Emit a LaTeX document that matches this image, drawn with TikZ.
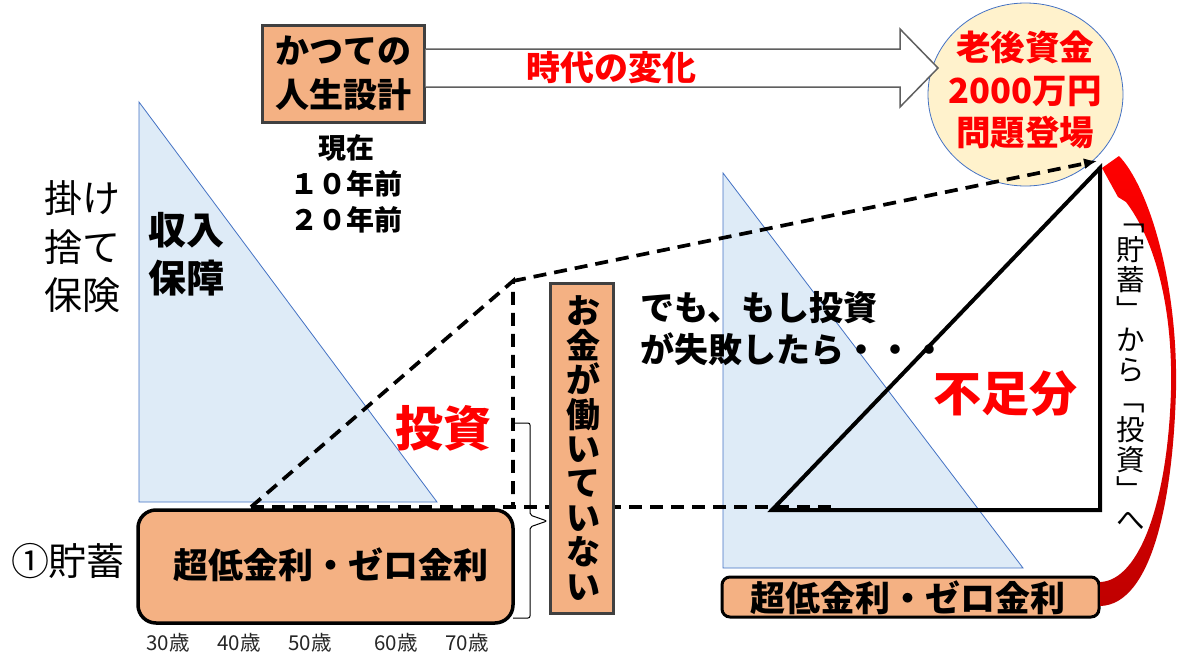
\documentclass[tikz,border=0pt]{standalone}
\usepackage{fontspec}
\setmainfont{Noto Sans CJK JP}
\usetikzlibrary{arrows.meta,shapes.geometric}
\definecolor{boxorange}{HTML}{F4B183}
\definecolor{triblue}{HTML}{DEEBF7}
\definecolor{triedge}{HTML}{4472C4}
\definecolor{circfill}{HTML}{FFF2CC}
\definecolor{boxedge}{HTML}{404040}
\definecolor{arrowgray}{HTML}{5F5F5F}
\definecolor{deepred}{HTML}{C00000}
\newcommand{\fsz}[2]{\fontsize{#1}{#2}\selectfont}
\begin{document}
\begin{tikzpicture}[x=1pt,y=-1pt,
  tri/.style={fill=triblue,draw=triedge,line width=0.8pt,line join=miter},
  dashline/.style={dash pattern=on 13pt off 8pt,line width=3.7pt,black},
  orangebox/.style={fill=boxorange,draw=boxedge,line width=3pt,inner sep=0pt},
  roundbox/.style={fill=boxorange,draw=black,line width=3.5pt,inner sep=0pt},
  txt/.style={inner sep=0pt,align=center},
  redtxt/.style={txt,text=red,font=\bfseries\fsz{48}{52}},
  agetxt/.style={txt,font=\fsz{20.5}{22},text=black!85}]
\useasboundingbox (0,0) rectangle (1200,672);
\fill[white] (0,0) rectangle (1200,672);

% blue triangles
\draw[tri] (139,102) -- (139,502) -- (437,502) -- cycle;
\draw[tri] (723,173) -- (723,568) -- (1023,568) -- cycle;

% goal circle
\node[ellipse,minimum width=195pt,minimum height=183pt,inner sep=0pt,
      fill=circfill,draw=triedge,line width=0.8pt] (goal) at (1025.5,94.5) {};
\node[txt,text=red,font=\bfseries\fsz{34.5}{42.5}] (goaltext) at (1025,90) {老後資金\\2000万円\\問題登場};

% dashed guide lines
\coordinate (dA) at (251,507);
\coordinate (dB) at (513,281);
\coordinate (dC) at (513,507);
\coordinate (dD) at (835,507);
\coordinate (dE) at (1097,161);
\draw[dashline] (dA) -- (dB) -- (dC);
\draw[dashline] (dA) -- (dD);
\draw[dashline,-{Latex[length=13pt,width=11pt]}] (dB) -- (dE);

% brace
\draw[black,line width=1pt,rounded corners=2pt]
  (513,423) -- (530,423) -- (530,515) -- (547,521) -- (530,527) -- (530,618) -- (513,618);

% black triangle
\coordinate (tA) at (772,510);
\coordinate (tB) at (1100,510);
\coordinate (tC) at (1100,168);
\draw[black,line width=4pt,line join=miter] (tA) -- (tB) -- (tC) -- cycle;

% past box and big hollow arrow
\node[orangebox,minimum width=162pt,minimum height=97pt] (past) at (343,73.5) {};
\node[txt,font=\bfseries\fsz{34}{44}] (pasttext) at (past.center) {かつての\\人生設計};
\draw[arrowgray,line width=1.5pt,fill=white,line join=miter]
  (past.east |- 0,49) -- (900,49) -- (900,29) -- (938,68) -- (900,107) -- (900,87) -- (past.east |- 0,87);
\node[txt,text=red,font=\bfseries\fsz{34}{40}] (change) at (611,68) {時代の変化};

% era text
\node[txt,font=\bfseries\fsz{28}{36}] (era) at (346,184) {現在\\１０年前\\２０年前};

% left labels
\node[txt,font=\fsz{38}{48.5},align=left] (kakesute) at (82,247) {掛け\\捨て\\保険};
\node[txt,font=\bfseries\fsz{38}{47.5},align=left] (income) at (186,254) {収入\\保障};
\node[redtxt] (invest) at (443,428) {投資};

% savings box
\node[roundbox,rounded corners=18pt,minimum width=375pt,minimum height=113pt] (savebox) at (325.5,566.5) {};
\node[txt,font=\bfseries\fsz{35}{40}] (savetext) at (331,565) {超低金利・ゼロ金利};
\node[txt,font=\fsz{38}{42}] (savelabel) at (68,561) {①貯蓄};

% ages
\node[agetxt] (a30) at (168,643) {30歳};
\node[agetxt] (a40) at (239,643) {40歳};
\node[agetxt] (a50) at (310,643) {50歳};
\node[agetxt] (a60) at (396,643) {60歳};
\node[agetxt] (a70) at (467,643) {70歳};

% money not working box
\node[orangebox,minimum width=63pt,minimum height=330pt] (idle) at (581.5,448) {};
\node[txt,font=\bfseries\fsz{34}{34.4}] (idletext) at (583,448) {お\\金\\が\\働\\い\\て\\い\\な\\い};

% what if text
\node[txt,font=\bfseries\fsz{34}{42},align=left,anchor=west] (whatif) at (640,329) {でも、もし投資\\が失敗したら・・・};
\node[redtxt] (shortfall) at (1005,394) {不足分};

% right savings box
\node[roundbox,line width=3pt,rounded corners=8pt,minimum width=377pt,minimum height=40pt] (rbox) at (910.5,597) {};
\node[txt,font=\bfseries\fsz{35}{40}] (rboxtext) at (908,598) {超低金利・ゼロ金利};

% red curved arrow
\shade[top color=red,middle color=red,bottom color=deepred,shading angle=0]
  (1102,168) -- (1119,156)
  .. controls (1148,186) and (1178,280) .. (1176,390)
  .. controls (1173,500) and (1152,604) .. (rbox.east |- 0,606)
  -- (rbox.east |- 0,582)
  .. controls (1140,580) and (1168,500) .. (1171,390)
  .. controls (1173,300) and (1152,236) .. (1126,202)
  -- (1118,197) -- cycle;

% vertical label
\node[txt,font=\fsz{28.5}{30}] (vlabel) at (1131,377) {﹁\\貯\\蓄\\﹂\\か\\ら\\﹁\\投\\資\\﹂\\へ};
\end{tikzpicture}
\end{document}
